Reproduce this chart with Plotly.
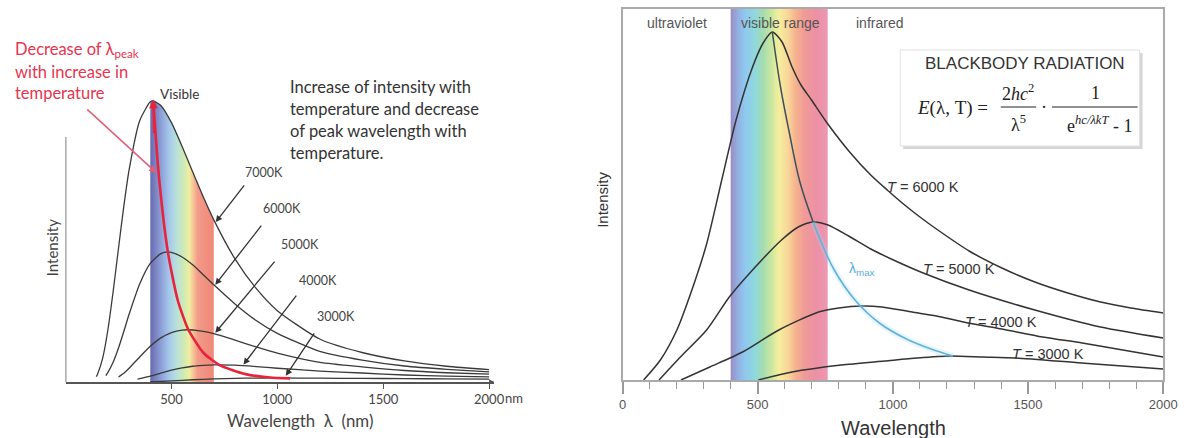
import numpy as np
import plotly.graph_objects as go

W, H = 1194, 438

# ---------------- LEFT chart data (relative intensity, 7000 K peak = 100) ----------------
L_wl_7000 = [145, 150, 175, 200, 225, 250, 275, 300, 350, 400, 414, 450, 500, 550, 600, 650, 700, 800, 900, 1000, 1200, 1400, 1600, 1800, 2000]
L_int_7000 = [1.9, 2.6, 8.4, 18.6, 32.4, 47.6, 62.5, 75.5, 93.0, 99.7, 100.0, 98.4, 92.3, 83.9, 74.8, 65.9, 57.7, 43.8, 33.3, 25.4, 15.3, 10.5, 7.5, 5.6, 4.4]
L_wl_6000 = [190, 200, 225, 250, 275, 300, 350, 400, 450, 483, 500, 550, 600, 650, 700, 800, 900, 1000, 1200, 1400, 1600, 1800, 2000]
L_int_6000 = [2.3, 3.4, 7.1, 12.1, 18.0, 24.1, 34.9, 42.2, 45.7, 46.3, 46.1, 44.5, 41.7, 38.2, 34.6, 27.8, 21.9, 17.3, 10.9, 7.8, 5.7, 4.5, 3.6]
L_wl_5000 = [250, 275, 300, 350, 400, 450, 500, 550, 580, 600, 650, 700, 800, 900, 1000, 1200, 1400, 1600, 1800, 2000]
L_int_5000 = [1.8, 3.1, 4.9, 8.9, 12.7, 15.7, 17.6, 18.5, 18.6, 18.5, 18.0, 17.2, 14.9, 12.5, 10.3, 7.0, 5.4, 4.1, 3.3, 2.8]
L_wl_4000 = [340, 400, 450, 500, 550, 600, 650, 700, 725, 800, 900, 1000, 1200, 1400, 1600, 1800, 2000]
L_int_4000 = [1.0, 2.1, 3.2, 4.2, 5.0, 5.6, 5.9, 6.1, 6.1, 6.0, 5.5, 4.9, 3.9, 3.2, 2.5, 2.1, 1.8]
L_wl_3000 = [400, 450, 500, 600, 700, 800, 900, 966, 1000, 1200, 1400, 1600, 1800, 2000]
L_int_3000 = [0.1, 0.2, 0.4, 0.8, 1.1, 1.3, 1.4, 1.45, 1.45, 1.35, 1.3, 1.2, 1.1, 1.0]
L_peak_wl = [414, 440, 483, 530, 580, 650, 725, 850, 966, 1060]
L_peak_int = [100, 73.8, 46.3, 29.0, 18.6, 10.5, 6.1, 2.8, 1.6, 1.3]
L_temps = ["7000K", "6000K", "5000K", "4000K", "3000K"]
L_xticks = [500, 1000, 1500, 2000]
L_visible = [400, 700]

# ---------------- RIGHT chart data (intensity, arbitrary units) ----------------
R_wl_6000 = [78, 140, 201, 250, 310, 367, 420, 481, 520, 554, 590, 627, 660, 699, 754, 840, 918, 979, 1039, 1100, 1161, 1282, 1403, 1525, 1647, 1768, 1880, 2000]
R_int_6000 = [0, 20, 50, 85, 135, 200, 260, 313, 337, 348, 338, 313, 295, 280, 258, 228, 205, 190, 176, 163, 151, 129, 112, 98, 87, 78, 72, 67]
R_wl_5000 = [135, 214, 311, 395, 491, 588, 650, 705, 760, 836, 918, 1002, 1112, 1282, 1525, 1768, 2000]
R_int_5000 = [0, 23, 50, 83, 113, 140, 153, 158, 155, 144, 131, 120, 107, 90, 70, 53, 42]
R_wl_4000 = [216, 323, 444, 578, 725, 800, 885, 960, 1071, 1161, 1278, 1403, 1554, 1700, 1829, 2000]
R_int_4000 = [0, 13, 28, 50, 68, 72, 74, 73, 68, 64, 57, 51, 43, 37, 31, 23]
R_wl_3000 = [502, 627, 809, 969, 1090, 1212, 1333, 1454, 1697, 2000]
R_int_3000 = [0, 8, 15, 19, 22, 24, 23, 22, 17, 11]
R_max_wl = [554, 585, 615, 656, 705, 781, 863, 950, 1050, 1141, 1222]
R_max_int = [348, 292, 250, 198, 158, 111, 79, 57, 41, 31, 24]
R_temps = ["6000 K", "5000 K", "4000 K", "3000 K"]
R_xticks = [0, 500, 1000, 1500, 2000]
R_visible = [400, 760]

# colour stops of the spectrum bands (styling)
L_band_stops = [(400, '#6c70b4'), (440, '#8a9bd4'), (480, '#a4c6ea'), (515, '#b8e0dc'), (550, '#cfeab4'),
                (575, '#eeeea0'), (592, '#f6c898'), (615, '#f29a88'), (700, '#ef8676')]
R_band_stops = [(400, '#9a8ac4'), (425, '#93aee0'), (455, '#8fcaf0'), (490, '#8fd8dc'), (520, '#a4dcb0'),
                (550, '#c8e6a0'), (580, '#f6ee9c'), (615, '#f8d49a'), (640, '#f5b48e'), (675, '#f09a98'),
                (720, '#ec90a6'), (760, '#ec98b2')]

# ---------------- geometry (pixels) ----------------
LX0, LX1 = 62.5, 497.9
L_XRANGE = [0, 2025]
LY_BASE, LY_TOP = 382, 80
L_PX_PER_UNIT = 2.81
L_YRANGE = [0, (LY_BASE - LY_TOP) / L_PX_PER_UNIT]
RX0, RX1 = 628, 1177
RY_BASE, RY_TOP = 380, 9


def fx(p):
    return p / W


def fy(p):
    return 1 - p / H


def scale(stops, lo, hi):
    return [[(w - lo) / (hi - lo), c] for w, c in stops]


fig = go.Figure()

# ---- left: spectrum filling the area under the 7000 K curve ----
band_x = [w for w in L_wl_7000 if L_visible[0] <= w <= L_visible[1]]
band_y = [v for w, v in zip(L_wl_7000, L_int_7000) if L_visible[0] <= w <= L_visible[1]]
fig.add_trace(go.Scatter(x=band_x, y=band_y, mode='lines', fill='tozeroy',
                         fillgradient=dict(type='horizontal', colorscale=scale(L_band_stops, *L_visible),
                                           start=L_visible[0], stop=L_visible[1]),
                         line=dict(width=0, shape='spline', smoothing=0.6),
                         hoverinfo='skip', xaxis='x', yaxis='y'))

for wl, iv in [(L_wl_7000, L_int_7000), (L_wl_6000, L_int_6000), (L_wl_5000, L_int_5000),
               (L_wl_4000, L_int_4000), (L_wl_3000, L_int_3000)]:
    fig.add_trace(go.Scatter(x=wl, y=iv, mode='lines', line=dict(color='#3a3a3a', width=1.3, shape='spline', smoothing=0.6),
                             hoverinfo='skip', xaxis='x', yaxis='y'))
fig.add_trace(go.Scatter(x=L_peak_wl, y=L_peak_int, mode='lines',
                         line=dict(color='#e8243c', width=2.6, shape='spline', smoothing=0.6),
                         hoverinfo='skip', xaxis='x', yaxis='y'))

# ---- right: spectrum band (full height) ----
edges = np.arange(R_visible[0], R_visible[1] + 0.001, 2.0)
fig.add_trace(go.Heatmap(x=edges, y=[0, RY_BASE - RY_TOP], z=[(edges[:-1] + edges[1:]) / 2],
                         colorscale=scale(R_band_stops, *R_visible), zmin=R_visible[0], zmax=R_visible[1],
                         showscale=False, hoverinfo='skip', xaxis='x2', yaxis='y2'))
for wl, iv in [(R_wl_6000, R_int_6000), (R_wl_5000, R_int_5000), (R_wl_4000, R_int_4000), (R_wl_3000, R_int_3000)]:
    fig.add_trace(go.Scatter(x=wl, y=iv, mode='lines', line=dict(color='#333333', width=1.5, shape='spline', smoothing=0.7),
                             hoverinfo='skip', xaxis='x2', yaxis='y2'))
# lambda max locus
fig.add_trace(go.Scatter(x=R_max_wl[4:], y=R_max_int[4:], mode='lines',
                         line=dict(color='rgba(160,220,242,0.25)', width=6, shape='spline'),
                         hoverinfo='skip', xaxis='x2', yaxis='y2'))
fig.add_trace(go.Scatter(x=R_max_wl[:5], y=R_max_int[:5], mode='lines',
                         line=dict(color='#3d4f5c', width=1.5, shape='spline'),
                         hoverinfo='skip', xaxis='x2', yaxis='y2'))
fig.add_trace(go.Scatter(x=R_max_wl[4:], y=R_max_int[4:], mode='lines',
                         line=dict(color='#62b2dc', width=1.6, shape='spline'),
                         hoverinfo='skip', xaxis='x2', yaxis='y2'))

LF = 'Lato, Open Sans, sans-serif'
RF = 'Liberation Sans, Arial, sans-serif'
SF = 'Liberation Serif, Times New Roman, serif'


def ann(text, x, y, size, color, family, xanchor='center', **kw):
    d = dict(text=text, x=fx(x), y=fy(y), xref='paper', yref='paper', showarrow=False, borderpad=0,
             font=dict(size=size, color=color, family=family), xanchor=xanchor, yanchor='middle')
    d.update(kw)
    return d


def arrow(tip, tail, color='#333', width=1.3, xr='x', yr='y', head=2, size=1.0):
    return dict(x=tip[0], y=tip[1], ax=tail[0], ay=tail[1], xref=xr, yref=yr, axref=xr, ayref=yr,
                text='', showarrow=True, arrowhead=head, arrowsize=size, arrowwidth=width,
                arrowcolor=color, standoff=0, startstandoff=0)


annotations = []
# left texts
annotations += [
    ann('Decrease of λ<sub>peak</sub>', 10, 50, 16.5, '#e8344e', LF, 'left'),
    ann('with increase in', 10, 72, 16.5, '#e8344e', LF, 'left'),
    ann('temperature', 10, 93, 16.5, '#e8344e', LF, 'left'),
    ann('Visible', 178, 94, 13.5, '#333', LF),
    ann('Increase of intensity with', 289, 87, 16.5, '#333', LF, 'left'),
    ann('temperature and decrease', 289, 109, 16.5, '#333', LF, 'left'),
    ann('of peak wavelength with', 289, 131, 16.5, '#333', LF, 'left'),
    ann('temperature.', 289, 153, 16.5, '#333', LF, 'left'),
    ann('Wavelength  λ  (nm)', 301, 420, 16.8, '#444', LF),
    ann('Intensity', 49, 248, 15, '#444', LF, textangle=-90),
    ann('nm', 508, 398, 13, '#444', LF, 'left'),
]
for t, (x, y) in zip(L_temps, [(264, 173), (282, 208), (301, 244), (319, 280), (337, 316)]):
    annotations.append(ann(t, x, y, 12.5, '#444', LF))
# left arrows
for tip, tail in [((709, 56.9), (849, 70.5)), ((707, 34.6), (930, 56.2)), ((707, 17.5), (993, 43.4)),
                  ((840, 6.2), (1095, 31.3)), ((1040, 2.2), (1179, 17.8))]:
    annotations.append(arrow(tip, tail))
annotations.append(arrow((430, 74.4), (95, 97.5), color='#e0607a', width=1.5))
annotations.append(arrow((L_peak_wl[0], L_peak_int[0] + 0.5), (418, 88), color='#e8243c', width=2.2, size=0.8))
annotations.append(arrow((2025, 0), (1995, 0), color='#555', width=1.2, size=0.9))

# right texts
annotations += [
    ann('ultraviolet', 683, 23, 14, '#555', RF),
    ann('visible range', 788, 23, 14, '#555', RF),
    ann('infrared', 889, 23, 14, '#555', RF),
    ann('BLACKBODY RADIATION', 1037, 63, 17, '#333', RF),
    ann('<i>E</i>(λ, T) =', 963, 108, 19, '#222', SF),
    ann('2<i>hc</i><sup>2</sup>', 1030, 93, 18, '#222', SF),
    ann('λ<sup>5</sup>', 1030, 123, 18, '#222', SF),
    ann('·', 1056, 107, 18, '#222', SF),
    ann('1', 1108, 93, 18, '#222', SF),
    ann('e<sup><i>hc/λkT</i></sup> - 1', 1112, 125, 18, '#222', SF),
    ann('λ<sub>max</sub>', 871, 269, 14, '#5aaedc', RF),
    ann('Wavelength', 903, 428, 20, '#333', RF),
    ann('Intensity', 607, 200, 15, '#333', RF, textangle=-90),
]
for t, (x, y) in zip(R_temps, [(933, 187), (970, 269), (1012, 322), (1060, 354)]):
    annotations.append(ann('<i>T</i> = ' + t, x, y, 14.5, '#333', RF))

shapes = [
    dict(type='line', xref='x', yref='y', x0=0, x1=0, y0=0, y1=(LY_BASE - 137) / L_PX_PER_UNIT,
         line=dict(color='#555', width=1.5)),
    dict(type='rect', xref='paper', yref='paper', x0=fx(913), x1=fx(1156), y0=fy(149), y1=fy(53),
         fillcolor='#d6d6d6', line=dict(width=0), layer='above'),
    dict(type='rect', xref='paper', yref='paper', x0=fx(910), x1=fx(1153), y0=fy(146), y1=fy(50),
         fillcolor='white', line=dict(color='#e2e2e2', width=1), layer='above'),
    dict(type='line', xref='paper', yref='paper', x0=fx(1012), x1=fx(1048), y0=fy(107), y1=fy(107),
         line=dict(color='#222', width=1), layer='above'),
    dict(type='line', xref='paper', yref='paper', x0=fx(1064), x1=fx(1151), y0=fy(107), y1=fy(107),
         line=dict(color='#222', width=1), layer='above'),
]

fig.update_layout(
    width=W, height=H, margin=dict(l=0, r=0, t=0, b=0),
    paper_bgcolor='white', plot_bgcolor='rgba(0,0,0,0)', showlegend=False,
    xaxis=dict(domain=[fx(LX0), fx(LX1)], range=L_XRANGE, anchor='y', showline=True, linecolor='#555',
               linewidth=1.5, ticks='outside', ticklen=5, tickcolor='#555', tickvals=L_xticks,
               ticktext=[str(v) for v in L_xticks], tickfont=dict(family=LF, size=13, color='#444'),
               showgrid=False, zeroline=False),
    yaxis=dict(domain=[fy(LY_BASE), fy(LY_TOP)], range=L_YRANGE, anchor='x', visible=False),
    xaxis2=dict(domain=[fx(RX0), fx(RX1)], range=[0, 2000], anchor='y2', showline=True, mirror=True,
                linecolor='#aaa', linewidth=1.5, ticks='outside', ticklen=12, tickcolor='#999', tickwidth=1.5,
                tickvals=R_xticks, tickfont=dict(family=RF, size=13, color='#555'),
                minor=dict(dtick=100, ticks='outside', ticklen=7, tickcolor='#999', tickwidth=1.2),
                showgrid=False, zeroline=False),
    yaxis2=dict(domain=[fy(RY_BASE), fy(RY_TOP)], range=[0, RY_BASE - RY_TOP], anchor='x2', showline=True,
                mirror=True, linecolor='#aaa', linewidth=1.5, ticks='', showticklabels=False,
                showgrid=False, zeroline=False),
    annotations=annotations, shapes=shapes,
)

fig.write_html('out.html')
